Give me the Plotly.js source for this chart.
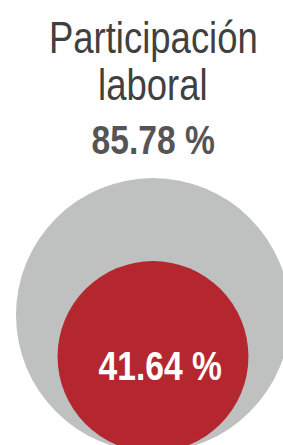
<!DOCTYPE html>
<html>
<head>
<meta charset="utf-8">
<script src="https://cdn.plot.ly/plotly-3.0.1.min.js"></script>
<style>html,body{margin:0;padding:0;background:#fff;}#chart{width:283px;height:445px;}</style>
</head>
<body>
<div id="chart"></div>
<script>
// Data
const titleLines = ["Participación", "laboral"];
const seriesNames = ["Participación laboral", "Subgrupo"];
const values = [85.78, 41.64];
const colors = ["#bfc1c1", "#b5272f"];

// Layout constants (pixel-space axes)
const W = 283, H = 445;
const maxDiameter = 274;     // diameter of the largest bubble in px
const baseLine = 452;        // bubbles share a common bottom
const centerX = 153;

const diam = values.map(v => maxDiameter * Math.sqrt(v / Math.max(...values)));
const fmt = v => v.toFixed(2) + " %";

const trace = {
  type: "scatter",
  mode: "markers",
  x: values.map(() => centerX),
  y: diam.map(d => baseLine - d / 2),
  text: seriesNames,
  hoverinfo: "text",
  marker: { size: diam, color: colors, opacity: 1, line: { width: 0 } },
  cliponaxis: true,
  showlegend: false
};

const font = "'Liberation Sans Narrow', 'Arial Narrow', 'Liberation Sans', Arial, sans-serif";

const annotations = [
  { text: titleLines[0], x: centerX, y: 37.5, font: { family: font, size: 44.5, color: "#404040" } },
  { text: titleLines[1], x: centerX, y: 84.5, font: { family: font, size: 44.5, color: "#404040" } },
  { text: "<b>" + fmt(values[0]) + "</b>", x: centerX, y: 139.5, font: { family: font, size: 41, color: "#555555" } },
  { text: "<b>" + fmt(values[1]) + "</b>", x: 159.5, y: 365.5, font: { family: font, size: 41, color: "#ffffff" } }
].map(a => Object.assign({ xref: "x", yref: "y", xanchor: "center", yanchor: "middle", showarrow: false }, a));

const layout = {
  width: W, height: H,
  margin: { l: 0, r: 0, t: 0, b: 0, pad: 0 },
  paper_bgcolor: "#ffffff", plot_bgcolor: "#ffffff",
  xaxis: { range: [0, W], visible: false, fixedrange: true },
  yaxis: { range: [H, 0], visible: false, fixedrange: true },
  annotations: annotations,
  showlegend: false
};

const gd = document.getElementById("chart");
Plotly.newPlot(gd, [trace], layout, { displayModeBar: false, staticPlot: true }).then(() => {
  // Emulate a narrow (condensed) typeface: no condensed Arial-like font is installed
  gd.querySelectorAll(".annotation-text").forEach(t => {
    t.style.transformBox = "fill-box";
    t.style.transformOrigin = "center";
    t.style.transform = "scaleX(0.82)";
  });
});
</script>
</body>
</html>
